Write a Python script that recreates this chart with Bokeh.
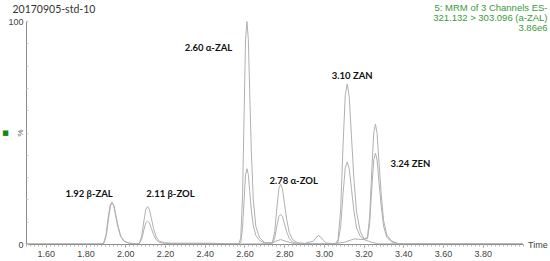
from math import pi
from bokeh.plotting import figure
from bokeh.models import Label, FixedTicker, NumeralTickFormatter, LinearAxis
from bokeh.embed import file_html
from bokeh.resources import INLINE

# ---- data (time in min, intensity in %) ----
t1 = [1.50, 1.875, 1.888, 1.900, 1.911, 1.921, 1.930, 1.939, 1.949, 1.960, 1.973, 1.990, 2.015, 2.050,
      2.068, 2.080, 2.091, 2.101, 2.110, 2.119, 2.129, 2.140, 2.153, 2.170, 2.195, 2.230, 2.400,
      2.569, 2.579, 2.588, 2.596, 2.603, 2.610, 2.617, 2.624, 2.632, 2.642, 2.655, 2.674, 2.700,
      2.738, 2.750, 2.761, 2.771, 2.780, 2.789, 2.799, 2.810, 2.823, 2.840, 2.865, 2.900,
      2.945, 2.958, 2.970, 2.982, 2.995, 3.010, 3.040,
      3.055, 3.069, 3.082, 3.094, 3.105, 3.115, 3.125, 3.136, 3.148, 3.162, 3.181, 3.200,
      3.217, 3.228, 3.239, 3.2485, 3.257, 3.2655, 3.275, 3.286, 3.298, 3.314, 3.338, 3.371, 3.40, 4.00]
i1 = [0.3, 0.3, 0.6, 4.2, 11.8, 17.7, 19.0, 17.5, 12.9, 8.0, 3.8, 1.5, 0.6, 0.3,
      0.5, 3.7, 10.5, 15.8, 17.0, 15.6, 11.6, 7.1, 3.4, 1.4, 0.8, 0.6, 0.6,
      0.3, 3.0, 22.0, 60.0, 92.0, 100.0, 92.0, 68.0, 42.0, 20.0, 8.0, 3.0, 0.8,
      0.8, 5.9, 16.7, 25.1, 27.0, 24.8, 18.4, 11.3, 5.4, 2.2, 0.8, 0.5,
      1.5, 3.2, 4.0, 3.3, 1.8, 0.7, 0.4,
      0.4, 2.2, 15.8, 44.6, 67.0, 72.0, 66.2, 49.0, 30.2, 14.4, 5.8, 2.5,
      3.2, 12.5, 33.9, 50.2, 54.0, 49.7, 36.7, 22.7, 10.8, 4.3, 1.6, 0.4, 0.3, 0.3]

t2 = [1.50, 1.877, 1.890, 1.902, 1.913, 1.923, 1.932, 1.941, 1.951, 1.962, 1.975, 1.992, 2.017, 2.050,
      2.068, 2.080, 2.091, 2.101, 2.110, 2.119, 2.129, 2.140, 2.153, 2.170, 2.195, 2.230, 2.400,
      2.569, 2.579, 2.588, 2.596, 2.603, 2.610, 2.617, 2.624, 2.632, 2.642, 2.655, 2.674, 2.700,
      2.738, 2.750, 2.761, 2.771, 2.780, 2.789, 2.799, 2.810, 2.823, 2.840, 2.865, 2.900,
      3.055, 3.069, 3.082, 3.094, 3.105, 3.115, 3.125, 3.136, 3.148, 3.162, 3.181, 3.200,
      3.217, 3.228, 3.239, 3.2485, 3.257, 3.2655, 3.275, 3.286, 3.298, 3.314, 3.338, 3.371, 3.40, 4.00]
i2 = [0.2, 0.2, 0.6, 4.1, 11.6, 17.4, 18.7, 17.2, 12.7, 7.9, 3.7, 1.5, 0.6, 0.3,
      0.4, 2.3, 6.5, 9.8, 10.5, 9.7, 7.1, 4.4, 2.1, 0.9, 0.5, 0.4, 0.4,
      0.3, 1.0, 7.5, 20.4, 31.3, 34.0, 31.3, 23.8, 15.5, 8.5, 4.0, 1.8, 0.6,
      0.5, 3.0, 8.4, 12.6, 13.5, 12.4, 9.2, 5.7, 2.7, 1.1, 0.5, 0.3,
      0.3, 1.1, 8.1, 22.9, 34.4, 37.0, 34.0, 25.2, 15.5, 7.4, 3.6, 2.4,
      2.6, 9.5, 25.7, 38.1, 41.0, 37.7, 27.9, 17.2, 8.2, 3.3, 1.2, 0.3, 0.2, 0.2]

t3 = [2.40, 2.73, 2.755, 2.78, 2.805, 2.85, 3.05, 3.10, 3.15, 3.20, 3.23, 3.27, 4.00]
i3 = [0.2, 0.3, 1.5, 2.2, 1.5, 0.3, 0.3, 1.0, 2.5, 2.2, 1.2, 0.3, 0.2]

x_ticks = [1.6, 1.8, 2.0, 2.2, 2.4, 2.6, 2.8, 3.0, 3.2, 3.4, 3.6, 3.8]
y_ticks = [0, 10, 20, 30, 40, 50, 60, 70, 80, 90, 100]
y_tick_labels = {0: "0", 100: "100"}

peak_names = ["1.92 \u03b2-ZAL", "2.11 \u03b2-ZOL", "2.60 \u03b1-ZAL", "2.78 \u03b1-ZOL", "3.10 ZAN", "3.24 ZEN"]
peak_label_x = [1.815, 2.225, 2.416, 2.845, 3.140, 3.433]
peak_label_y = [22.9, 22.9, 88.4, 28.7, 75.8, 36.3]

title_text = "20170905-std-10"
info_lines = ["5: MRM of 3 Channels ES-", "321.132 > 303.096 (a-ZAL)", "3.86e6"]

# ---- figure: the frame fills the canvas, axes are pinned at t=1.5 and 0 % ----
W, H = 550, 261
X0, X1 = 1.5, 4.0
px_x = 198.6                     # pixels per minute
px_y = 2.23                      # pixels per percent
x_start = X0 - 26 / px_x
x_end = x_start + W / px_x
y_end = 100 + 21 / px_y
y_start = y_end - H / px_y

p = figure(width=W, height=H, x_range=(x_start, x_end), y_range=(y_start, y_end),
           output_backend="svg", toolbar_location=None,
           x_axis_location=None, y_axis_location=None, min_border=0)
p.outline_line_color = None
p.grid.visible = False
p.background_fill_color = "white"

line_col = "#b0b0b0"
p.line(t3, i3, line_color=line_col, line_width=1)
p.line(t2, i2, line_color=line_col, line_width=1)
p.line(t1, i1, line_color=line_col, line_width=1)

ax_font = "Liberation Sans"

xa = LinearAxis(fixed_location=0, bounds=(X0, X1))
xa.ticker = FixedTicker(ticks=x_ticks, minor_ticks=[round(X0 + 0.02 * k, 2) for k in range(126)])
xa.formatter = NumeralTickFormatter(format="0.00")
xa.axis_line_color = "#8a8a8a"
xa.major_tick_line_color = "#8a8a8a"
xa.minor_tick_line_color = "#b5b5b5"
xa.major_tick_in = 0
xa.major_tick_out = 3
xa.minor_tick_in = 0
xa.minor_tick_out = 2
xa.major_label_standoff = 3
xa.major_label_text_font = ax_font
xa.major_label_text_font_size = "9px"
xa.major_label_text_color = "#444444"
p.add_layout(xa, "below")

ya = LinearAxis(fixed_location=X0, bounds=(0, 100))
ya.ticker = FixedTicker(ticks=y_ticks)
ya.major_label_overrides = {v: y_tick_labels.get(v, "") for v in y_ticks}
ya.axis_line_color = "#8a8a8a"
ya.major_tick_line_color = "#cccccc"
ya.major_tick_in = 2
ya.major_tick_out = 0
ya.minor_tick_line_color = None
ya.major_label_standoff = 3
ya.major_label_text_font = ax_font
ya.major_label_text_font_size = "9px"
ya.major_label_text_color = "#444444"
p.add_layout(ya, "left")

p.add_layout(Label(x=X0 - 6 / px_x, y=50, text="%",
                   text_align="center", text_baseline="middle", angle=pi / 2,
                   text_font=ax_font, text_font_size="8px", text_color="#666666"))
p.add_layout(Label(x=X0 - 21 / px_x, y=50, text="\u25a0",
                   text_align="center", text_baseline="middle",
                   text_font="DejaVu Sans", text_font_size="7px", text_color="#118811"))
p.add_layout(Label(x=X1 + 5 / px_x, y=0, text="Time",
                   text_align="left", text_baseline="middle",
                   text_font=ax_font, text_font_size="9px", text_color="#444444"))

# title and channel info
p.add_layout(Label(x=X0 - 14 / px_x, y=y_end - 2 / px_y, text=title_text,
                   text_align="left", text_baseline="top",
                   text_font="Lato", text_font_size="10.5px", text_color="#333333"))
for k, s in enumerate(info_lines):
    p.add_layout(Label(x=x_end - 3 / px_x, y=y_end - (7 + 10 * k) / px_y, text=s,
                       text_align="right", text_baseline="middle",
                       text_font=ax_font, text_font_size="9.5px", text_color="#3a9a3a"))

# peak labels
for name, lx, ly in zip(peak_names, peak_label_x, peak_label_y):
    p.add_layout(Label(x=lx, y=ly, text=name, text_align="center", text_baseline="middle",
                       text_font="Lato", text_font_style="bold", text_font_size="9.5px",
                       text_color="#111111"))

open("out.html", "w").write(file_html(p, INLINE))
